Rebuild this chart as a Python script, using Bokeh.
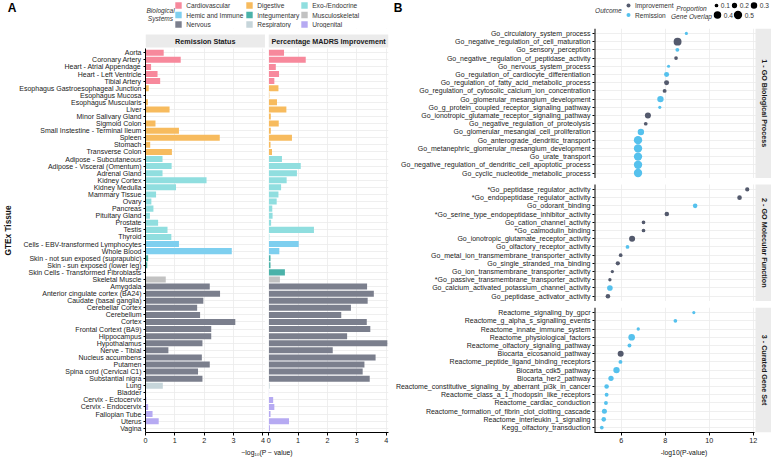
import math
from bokeh.plotting import figure
from bokeh.models import Range1d, FixedTicker
from bokeh.layouts import row, column
from bokeh.embed import file_html
from bokeh.resources import INLINE
from bokeh.core.properties import value

FONT = "Liberation Sans"

# ---------------- Panel A data ----------------
tissues = [
    "Aorta", "Coronary Artery", "Heart - Atrial Appendage", "Heart - Left Ventricle", "Tibial Artery",
    "Esophagus Gastroesophageal Junction", "Esophagus Mucosa", "Esophagus Muscularis", "Liver",
    "Minor Salivary Gland", "Sigmoid Colon", "Small Instestine - Terminal Ileum", "Spleen", "Stomach",
    "Transverse Colon",
    "Adipose - Subcutaneous", "Adipose - Visceral (Omentum)", "Adrenal Gland", "Kidney Cortex",
    "Kidney Medulla", "Mammary Tissue", "Ovary", "Pancreas", "Pituitary Gland", "Prostate", "Testis", "Thyroid",
    "Cells - EBV-transformed Lymphocytes", "Whole Blood",
    "Skin - not sun exposed (suprapubic)", "Skin - sun exposed (lower leg)", "Skin Cells - Transformed Fibroblasts",
    "Skeletal Muscle",
    "Amygdala", "Anterior cingulate cortex (BA24)", "Caudate (basal ganglia)", "Cerebellar Cortex", "Cerebellum",
    "Cortex", "Frontal Cortext (BA9)", "Hippocampus", "Hypothalamus", "Nerve - Tibial", "Nucleus accumbens",
    "Putamen", "Spina cord (Cervical C1)", "Substantial nigra",
    "Lung",
    "Bladder", "Cervix - Ectocervix", "Cervix - Endocervix", "Fallopian Tube", "Uterus", "Vagina",
]
tissue_system = (
    ["Cardiovascular"] * 5 + ["Digestive"] * 10 + ["Exo-/Endocrine"] * 12 + ["Hemic and Immune"] * 2
    + ["Integumentary"] * 3 + ["Musculoskeletal"] * 1 + ["Nervous"] * 14 + ["Respiratory"] * 1
    + ["Urogenital"] * 6
)
remission_logp = [
    0.62, 1.20, 0.19, 0.41, 0.50,
    0.11, 0.01, 0.08, 0.82, 0.02, 0.34, 1.14, 2.53, 0.16, 0.90,
    0.58, 0.89, 0.58, 2.08, 1.04, 0.36, 0.20, 0.27, 0.15, 0.43, 0.75, 0.88,
    1.14, 2.94,
    0.09, 0.06, 0.01,
    0.69,
    2.19, 2.54, 1.97, 1.76, 1.86, 3.06, 2.24, 2.24, 1.94, 0.78, 1.92, 2.19, 1.79, 1.94,
    0.59,
    0.02, 0.03, 0.09, 0.24, 0.45, 0.02,
]
improvement_logp = [
    0.52, 1.26, 0.24, 0.35, 0.19,
    0.33, 0.02, 0.28, 0.60, 0.07, 0.34, 0.07, 0.79, 0.06, 0.11,
    0.45, 1.09, 0.96, 0.61, 0.42, 0.33, 0.27, 0.12, 0.13, 0.08, 1.54, 0.02,
    1.02, 0.36,
    0.06, 0.06, 0.55,
    0.38,
    3.35, 3.58, 3.37, 2.80, 2.47, 3.34, 3.46, 2.67, 4.04, 2.18, 3.64, 3.26, 3.20, 3.44,
    0.03,
    0.01, 0.15, 0.19, 0.06, 0.69, 0.04,
]
system_names = ["Cardiovascular", "Digestive", "Exo-/Endocrine", "Hemic and Immune", "Integumentary",
                "Musculoskeletal", "Nervous", "Respiratory", "Urogenital"]
system_colors = ["#F7899C", "#F7BB5E", "#90DEDF", "#7ECFEF", "#4BB2A9",
                 "#C2C2C2", "#7B7F8D", "#C6D5DA", "#B6AAF2"]
analysis_names = ["Remission Status", "Percentage MADRS Improvement"]
a_x_ticks = [0, 1, 2, 3, 4]

# ---------------- Panel B data ----------------
facet_names = ["1 - GO Biological Process", "2 - GO Molecular Function", "3 - Curated Gene Set"]
b1_terms = [
    "Go_circulatory_system_process", "Go_negative_regulation_of_cell_maturation", "Go_sensory_perception",
    "Go_negative_regulation_of_peptidase_activity", "Go_nervous_system_process",
    "Go_regulation_of_cardiocyte_differentiation", "Go_regulation_of_fatty_acid_metabolic_process",
    "Go_regulation_of_cytosolic_calcium_ion_concentration", "Go_glomerular_mesangium_development",
    "Go_g_protein_coupled_receptor_signaling_pathway", "Go_ionotropic_glutamate_receptor_signaling_pathway",
    "Go_negative_regulation_of_proteolysis", "Go_glomerular_mesangial_cell_proliferation",
    "Go_anterograde_dendritic_transport", "Go_metanephric_glomerular_mesangium_development",
    "Go_urate_transport", "Go_negative_regulation_of_dendritic_cell_apoptotic_process",
    "Go_cyclic_nucleotide_metabolic_process",
]
b1_logp = [8.96, 8.56, 8.55, 8.49, 8.15, 8.06, 8.06, 7.97, 7.78, 7.75, 7.21, 7.11, 6.89, 6.76, 6.76, 6.76, 6.76, 6.76]
b1_outcome = ["Remission", "Improvement", "Remission", "Improvement", "Remission", "Remission", "Improvement",
              "Improvement", "Remission", "Remission", "Improvement", "Improvement", "Remission", "Remission",
              "Remission", "Remission", "Remission", "Remission"]
b1_overlap = [0.07, 0.45, 0.11, 0.10, 0.07, 0.18, 0.18, 0.11, 0.29, 0.07, 0.26, 0.10, 0.29, 0.5, 0.5, 0.5, 0.5, 0.5]

b2_terms = [
    "*Go_peptidase_regulator_activity", "*Go_endopeptidase_regulator_activity", "Go_odorant_binding",
    "*Go_serine_type_endopeptidase_inhibitor_activity", "Go_cation_channel_activity", "*Go_calmodulin_binding",
    "Go_ionotropic_glutamate_receptor_activity", "Go_olfactory_receptor_activity",
    "Go_metal_ion_transmembrane_transporter_activity", "Go_single_stranded_rna_binding",
    "Go_ion_transmembrane_transporter_activity", "*Go_passive_transmembrane_transporter_activity",
    "Go_calcium_activated_potassium_channel_activity", "Go_peptidase_activator_activity",
]
b2_logp = [11.73, 11.38, 9.36, 8.07, 7.01, 7.01, 6.49, 6.28, 5.97, 5.84, 5.59, 5.48, 5.48, 5.39]
b2_outcome = ["Improvement", "Improvement", "Remission", "Improvement", "Improvement", "Improvement",
              "Improvement", "Remission", "Improvement", "Improvement", "Improvement", "Improvement",
              "Remission", "Improvement"]
b2_overlap = [0.13, 0.15, 0.15, 0.15, 0.10, 0.10, 0.26, 0.10, 0.10, 0.13, 0.08, 0.08, 0.23, 0.15]

b3_terms = [
    "Reactome_signaling_by_gpcr", "Reactome_g_alpha_s_signalling_events", "Reactome_innate_immune_system",
    "Reactome_physiological_factors", "Reactome_olfactory_signaling_pathway", "Biocarta_eicosanoid_pathway",
    "Reactome_peptide_ligand_binding_receptors", "Biocarta_cdk5_pathway", "Biocarta_her2_pathway",
    "Reactome_constitutive_signaling_by_aberrant_pi3k_in_cancer", "Reactome_class_a_1_rhodopsin_like_receptors",
    "Reactome_cardiac_conduction", "Reactome_formation_of_fibrin_clot_clotting_cascade",
    "Reactome_interleukin_1_signaling", "Kegg_olfactory_transduction",
]
b3_logp = [9.30, 8.46, 6.77, 6.47, 6.37, 5.97, 5.96, 5.78, 5.53, 5.33, 5.33, 5.30, 5.23, 5.20, 5.11]
b3_outcome = ["Remission", "Remission", "Remission", "Remission", "Remission", "Improvement", "Remission",
              "Remission", "Remission", "Remission", "Remission", "Remission", "Remission", "Remission", "Remission"]
b3_overlap = [0.07, 0.10, 0.08, 0.32, 0.11, 0.26, 0.11, 0.29, 0.20, 0.15, 0.11, 0.11, 0.18, 0.15, 0.10]

outcome_names = ["Improvement", "Remission"]
outcome_colors = ["#545A6D", "#55C1ED"]
overlap_legend = [0.1, 0.2, 0.3, 0.4, 0.5]
b_x_ticks = [6, 8, 10, 12]


def dot_size(p):
    return 11.8 * math.sqrt(p)


def style_axis(ax, size="7.2px"):
    ax.major_label_text_font = FONT
    ax.major_label_text_font_size = size
    ax.major_label_text_color = "#222222"
    ax.axis_label_text_font = FONT
    ax.axis_label_text_font_style = "normal"
    ax.axis_label_text_color = "#111111"
    ax.minor_tick_line_color = None
    ax.major_tick_in = 0
    ax.major_tick_out = 3
    ax.major_tick_line_color = "black"
    ax.axis_line_color = "black"
    ax.major_label_standoff = 2


def label_axis(ax, tick, text, size, style, standoff, color="black"):
    """An axis that only carries one text (used for the panel letters)."""
    ax.ticker = FixedTicker(ticks=[tick])
    ax.major_label_overrides = {tick: text}
    ax.major_label_text_font = FONT
    ax.major_label_text_font_size = size
    ax.major_label_text_font_style = style
    ax.major_label_text_color = color
    ax.major_label_standoff = standoff
    ax.major_tick_out = 0
    ax.major_tick_in = 0
    ax.major_tick_line_color = None
    ax.minor_tick_line_color = None
    ax.axis_line_color = None


def txt(p, xs, ys, texts, size="6.6px", style="normal", align="left", color="#333333"):
    p.text(x=xs, y=ys, text=texts, text_font=value(FONT), text_font_size=size, text_font_style=style,
           text_align=align, text_baseline="middle", text_color=color)


color_of = dict(zip(system_names, system_colors))
ocolor_of = dict(zip(outcome_names, outcome_colors))

LH = 28      # legend strip height
FH = 404     # frame height of both main panels

# ================= Panel A =================
FW_A = 243
n = len(tissues)
rows_a = list(range(n))
X1MAX = 4.07
OFF = 4.2
X2MAX = OFF + 4.08
Y_TOP, Y_BOT = -0.6, n - 1 + 0.6
PY_A = (FH - 20) / (Y_BOT - Y_TOP)
FRAME_TOP_A = Y_TOP - 20 / PY_A
STRIP_TOP, STRIP_BOT = Y_TOP - 14 / PY_A, Y_TOP - 1 / PY_A

pa = figure(frame_width=FW_A, frame_height=FH, x_range=Range1d(0, X2MAX), y_range=Range1d(Y_BOT, FRAME_TOP_A),
            output_backend="svg", toolbar_location=None, min_border=0, min_border_right=2)
pa.outline_line_color = None
bar_colors = [color_of[s] for s in tissue_system]
pa.hbar(y=rows_a, left=0, right=remission_logp, height=0.85, fill_color=bar_colors, line_color=None)
pa.hbar(y=rows_a, left=OFF, right=[OFF + v for v in improvement_logp], height=0.85,
        fill_color=bar_colors, line_color=None)
pa.quad(left=[X1MAX], right=[OFF], bottom=[Y_BOT], top=[FRAME_TOP_A], fill_color="white", line_color=None)
pa.quad(left=[0], right=[X2MAX], bottom=[Y_TOP], top=[FRAME_TOP_A], fill_color="white", line_color=None)
pa.quad(left=[0, OFF], right=[X1MAX, X2MAX], bottom=[STRIP_BOT] * 2, top=[STRIP_TOP] * 2,
        fill_color="#EBEBEB", line_color=None)
txt(pa, [X1MAX / 2, (OFF + X2MAX) / 2], [(STRIP_TOP + STRIP_BOT) / 2] * 2, analysis_names,
    size="7.2px", style="bold", align="center", color="#1A1A1A")

a_ticks_all = a_x_ticks + [OFF + t for t in a_x_ticks]
pa.xaxis.ticker = FixedTicker(ticks=a_ticks_all)
pa.xaxis.major_label_overrides = {t: str(v) for t, v in zip(a_ticks_all, a_x_ticks + a_x_ticks)}
pa.xaxis.bounds = (0, X2MAX)
pa.xaxis.axis_label = "\u2212log\u2081\u2080(P \u2212 value)"
pa.yaxis.ticker = FixedTicker(ticks=rows_a)
pa.yaxis.major_label_overrides = {i: t for i, t in enumerate(tissues)}
pa.yaxis.bounds = (Y_TOP, Y_BOT)
pa.yaxis.axis_label = "GTEx Tissue"
style_axis(pa.xaxis[0], "7.2px")
style_axis(pa.yaxis[0], "7px")
pa.xaxis.axis_label_text_font_size = "6.8px"
pa.xaxis.axis_label_standoff = 3
pa.yaxis.axis_label_text_font_size = "8.3px"
pa.yaxis.axis_label_text_font_style = "bold"
pa.yaxis.axis_label_standoff = 3
pa.yaxis.major_tick_out = 2
pa.ygrid.ticker = FixedTicker(ticks=rows_a)
pa.xgrid.ticker = FixedTicker(ticks=[1, 2, 3, 4] + [OFF + t for t in a_x_ticks])
pa.grid.grid_line_color = "#EBEBEB"
pa.grid.grid_line_width = 0.8

# legend strip A (pixel coordinates inside its frame, lined up with panel A's frame)
la = figure(frame_width=FW_A, frame_height=LH, x_range=Range1d(0, FW_A), y_range=Range1d(0, LH),
            output_backend="svg", toolbar_location=None, min_border=0, min_border_right=2,
            x_axis_location=None)
la.outline_line_color = None
la.xgrid.visible = False
la.ygrid.visible = False
label_axis(la.yaxis[0], LH - 7.5, "A", "12px", "bold", 129)
txt(la, [15, 15], [LH - 10, LH - 17.5], ["Biological", "Systems"], style="italic", align="center")
leg_x = [33, 104, 159]
leg_y = [LH - 5, LH - 14.5, LH - 24]
sq_x, sq_y = [], []
for k in range(len(system_names)):
    sq_x.append(leg_x[k % 3])
    sq_y.append(leg_y[k // 3])
la.scatter(x=sq_x, y=sq_y, marker="square", size=6.4, fill_color=system_colors, line_color=None)
txt(la, [v + 7.7 for v in sq_x], sq_y, system_names)

# ================= Panel B =================
FW_B = 179
facets = [(b1_terms, b1_logp, b1_outcome, b1_overlap),
          (b2_terms, b2_logp, b2_outcome, b2_overlap),
          (b3_terms, b3_logp, b3_outcome, b3_overlap)]
b_y, b_x, b_c, b_s, b_lab = [], [], [], [], {}
spans = []
start = 1
for terms, logp, outc, ov in facets:
    ys = [start + i for i in range(len(terms))]
    b_y += ys
    b_x += logp
    b_c += [ocolor_of[o] for o in outc]
    b_s += [dot_size(p) for p in ov]
    for yy, t in zip(ys, terms):
        b_lab[yy] = t
    spans.append((ys[0] - 0.6, ys[-1] + 0.6))
    start = ys[-1] + 2
allx = b1_logp + b2_logp + b3_logp
xspan = max(allx) - min(allx)
XB0 = min(allx) - 0.05 * xspan
XB_DATA_END = max(allx) + 0.05 * xspan
PX = (FW_B - 19) / (XB_DATA_END - XB0)
XB_STRIP0 = XB_DATA_END + 1 / PX
XB_END = XB0 + FW_B / PX
YB_TOP, YB_BOT = spans[0][0], spans[-1][1]

pb = figure(frame_width=FW_B, frame_height=FH, x_range=Range1d(XB0, XB_END), y_range=Range1d(YB_BOT, YB_TOP),
            output_backend="svg", toolbar_location=None, min_border=0)
pb.outline_line_color = None
pb.scatter(x=b_x, y=b_y, size=b_s, fill_color=b_c, line_color=None, marker="circle")
for k in range(len(spans) - 1):
    pb.quad(left=[XB0], right=[XB_END], top=[spans[k][1]], bottom=[spans[k + 1][0]],
            fill_color="white", line_color=None)
pb.quad(left=[XB_STRIP0] * 3, right=[XB_END] * 3, top=[s[0] for s in spans], bottom=[s[1] for s in spans],
        fill_color="#EBEBEB", line_color=None)
pb.text(x=[(XB_STRIP0 + XB_END) / 2] * 3, y=[(s[0] + s[1]) / 2 for s in spans], text=facet_names,
        angle=-math.pi / 2, text_font=value(FONT), text_font_size="7.2px", text_font_style="bold",
        text_align="center", text_baseline="middle", text_color="#1A1A1A")
pb.segment(x0=[XB0] * 3, x1=[XB0] * 3, y0=[s[0] for s in spans], y1=[s[1] for s in spans],
           line_color="black", line_width=2)
pb.xaxis.ticker = FixedTicker(ticks=b_x_ticks)
pb.xaxis.bounds = (XB0, XB_DATA_END)
pb.xaxis.axis_label = "-log10(P-value)"
pb.yaxis.ticker = FixedTicker(ticks=b_y)
pb.yaxis.major_label_overrides = b_lab
style_axis(pb.xaxis[0], "7.2px")
style_axis(pb.yaxis[0], "7px")
pb.yaxis.axis_line_color = None
pb.yaxis.major_tick_out = 2
pb.xaxis.axis_label_text_font_size = "6.8px"
pb.xaxis.axis_label_standoff = 3
pb.ygrid.ticker = FixedTicker(ticks=b_y)
pb.xgrid.ticker = FixedTicker(ticks=b_x_ticks)
pb.grid.grid_line_color = "#EBEBEB"
pb.grid.grid_line_width = 0.8

# legend strip B
lb = figure(frame_width=FW_B, frame_height=LH, x_range=Range1d(0, FW_B), y_range=Range1d(0, LH),
            output_backend="svg", toolbar_location=None, min_border=0, x_axis_location=None)
lb.outline_line_color = None
lb.xgrid.visible = False
lb.ygrid.visible = False
label_axis(lb.yaxis[0], LH - 7.5, "B", "12px", "bold", 192)
out_y = [LH - 5, LH - 14.5]
txt(lb, [0.5], [LH - 9.5], ["Outcome"], style="italic")
lb.scatter(x=[34, 34], y=out_y, size=4, fill_color=outcome_colors, line_color=None, marker="circle")
txt(lb, [40.5, 40.5], out_y, outcome_names)
txt(lb, [97, 97], [LH - 8, LH - 16], ["Proportion", "Gene Overlap"], style="italic", align="center")
size_x = [122, 140, 159.5, 123, 143.5]
size_y = [LH - 5, LH - 5, LH - 5, LH - 14.5, LH - 14.5]
ss = [dot_size(p) for p in overlap_legend]
lb.scatter(x=size_x, y=size_y, size=ss, fill_color="black", line_color=None, marker="circle")
txt(lb, [x + s / 2 + 2.5 for x, s in zip(size_x, ss)], size_y, [str(p) for p in overlap_legend])

layout = row(column(la, pa), column(lb, pb))
open("out.html", "w").write(file_html(layout, INLINE, title="GTEx enrichment"))
